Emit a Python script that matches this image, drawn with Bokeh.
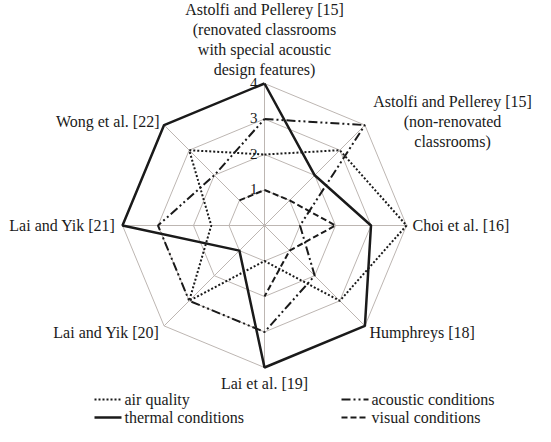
import math
from bokeh.plotting import figure
from bokeh.models import Range1d
from bokeh.core.properties import value
from bokeh.embed import file_html
from bokeh.resources import INLINE

# ---------------- data ----------------
categories = [
    "Astolfi and Pellerey [15]\n(renovated classrooms\nwith special acoustic\ndesign features)",
    "Astolfi and Pellerey [15]\n(non-renovated\nclassrooms)",
    "Choi et al. [16]",
    "Humphreys [18]",
    "Lai et al. [19]",
    "Lai and Yik [20]",
    "Lai and Yik [21]",
    "Wong et al. [22]",
]
air_quality = [2, 3, 4, 3, 1, 3, 1.5, 3]
thermal = [4, 2, 3, 4, 4, 1, 4, 4]
acoustic = [3, 4, 1, 2, 3, 3, 3, 2]
visual = [1, 1, 2, 1, 2, None, None, 1]
ticks = [1, 2, 3, 4]
series_names = ["air quality", "acoustic conditions", "thermal conditions", "visual conditions"]

# ---------------- layout ----------------
W, H = 535, 426
U = 35.5           # pixels per unit value
CX, CY = 264, 225  # centre of radar in figure pixels (from top-left)
FONT = "Liberation Serif"
INK = "#1a1a1a"
GRID = "#bdb6b2"

p = figure(width=W, height=H,
           x_range=Range1d(-CX / U, (W - CX) / U),
           y_range=Range1d(-(H - CY) / U, CY / U),
           output_backend="svg", toolbar_location=None, min_border=0,
           x_axis_location=None, y_axis_location=None,
           outline_line_color=None, background_fill_color="white",
           border_fill_color="white")
p.grid.visible = False

n = len(categories)
ang = [2 * math.pi * i / n for i in range(n)]


def polar(vals):
    xs, ys = [], []
    for v, a in zip(list(vals) + [vals[0]], ang + [ang[0]]):
        if v is None:
            xs.append(float("nan")); ys.append(float("nan"))
        else:
            xs.append(v * math.sin(a)); ys.append(v * math.cos(a))
    return xs, ys


# grid octagons + spokes
rmax = max(ticks)
for t in ticks:
    gx, gy = polar([t] * n)
    p.line(gx, gy, line_color=GRID, line_width=1)
p.segment(x0=[0] * n, y0=[0] * n,
          x1=[rmax * math.sin(a) for a in ang], y1=[rmax * math.cos(a) for a in ang],
          line_color=GRID, line_width=1)

# tick labels, left of the vertical spoke
p.text(x=[-0.2] * len(ticks), y=[t + 0.02 for t in ticks], text=[str(t) for t in ticks],
       text_font=value(FONT), text_font_size="15px", text_color=INK,
       text_align="right", text_baseline="middle")

# series
styles = {
    "air quality": dict(line_dash="2 2", line_width=2),
    "acoustic conditions": dict(line_dash="9 3 2 3 2 3", line_width=2),
    "thermal conditions": dict(line_dash="solid", line_width=2.5),
    "visual conditions": dict(line_dash="6 3", line_width=2),
}
series = {"air quality": air_quality, "acoustic conditions": acoustic,
          "thermal conditions": thermal, "visual conditions": visual}
for name in ["air quality", "visual conditions", "acoustic conditions", "thermal conditions"]:
    sx, sy = polar(series[name])
    p.line(sx, sy, line_color=INK, **styles[name])

# category labels (pixel anchors relative to radar centre, +y down)
label_pos = [
    (0, -186, "center"),
    (188, -104, "center"),
    (148, 0, "left"),
    (105, 107, "left"),
    (0, 158, "center"),
    (-105, 107, "right"),
    (-149, 0, "right"),
    (-105, -104, "right"),
]
for cat, (dx, dy, al) in zip(categories, label_pos):
    p.text(x=[dx / U], y=[-dy / U], text=[cat], text_font=value(FONT),
           text_font_size="16px", text_color=INK, text_align=al,
           text_baseline="middle", text_line_height=1.18)

# legend (two columns, two rows)
leg_cols = [-170, 77]
leg_rows = [174, 192]
leg_order = [["air quality", "acoustic conditions"], ["thermal conditions", "visual conditions"]]
for r, row in enumerate(leg_order):
    for c, name in enumerate(row):
        x0 = leg_cols[c]
        yy = -leg_rows[r] / U
        p.line([x0 / U, (x0 + 27) / U], [yy, yy], line_color=INK, **styles[name])
        p.text(x=[(x0 + 30) / U], y=[yy], text=[name], text_font=value(FONT),
               text_font_size="16px", text_color=INK, text_align="left",
               text_baseline="middle")

open("out.html", "w").write(file_html(p, INLINE))
